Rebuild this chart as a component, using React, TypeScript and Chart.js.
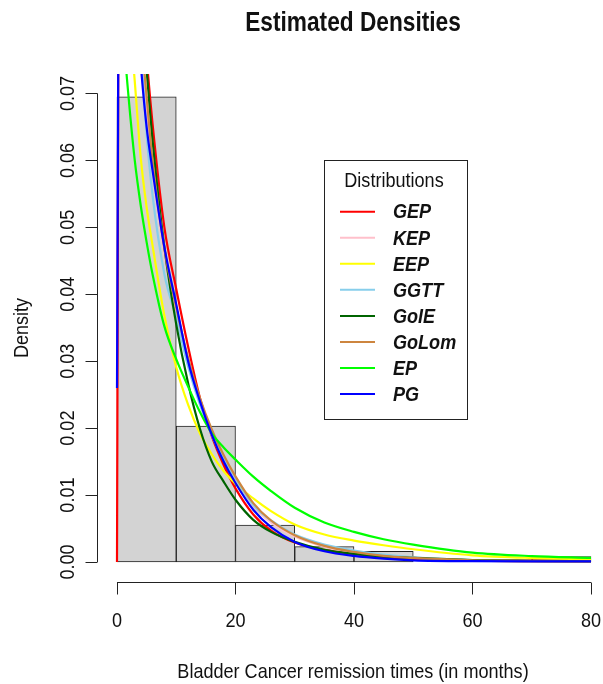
import React, { useEffect, useRef } from "react";
import { Chart, registerables } from "chart.js";

Chart.register(...registerables);

// ---- data ----
const chartTitle = "Estimated Densities";
const xAxisLabel = "Bladder Cancer remission times (in months)";
const yAxisLabel = "Density";
const legendTitle = "Distributions";

const xTicks = [0, 20, 40, 60, 80];
const yTicks = [0, 0.01, 0.02, 0.03, 0.04, 0.05, 0.06, 0.07];
const yTickLabels = ["0.00", "0.01", "0.02", "0.03", "0.04", "0.05", "0.06", "0.07"];

const binCenters = [5, 15, 25, 35, 45, 55, 65, 75];
const binDensities = [0.0695, 0.0203, 0.0055, 0.0023, 0.0016, 0, 0, 0.0008];

const curveX = [0, 0.5, 1, 2, 3, 4, 5, 6, 8, 10, 12, 14, 16, 18, 20, 23, 26, 30, 35, 40, 45, 50, 60, 70, 80];

const GEP = [0, 0.14, 0.14, 0.125, 0.105, 0.088, 0.0755, 0.0655, 0.05, 0.0408, 0.0322, 0.0245, 0.0188, 0.0145, 0.011, 0.0071, 0.0047, 0.0029, 0.0018, 0.0012, 0.0007, 0.00045, 0.00025, 0.0002, 0.00018];
const KEP = [0.2, 0.16, 0.14, 0.11, 0.092, 0.079, 0.068, 0.059, 0.046, 0.0375, 0.03, 0.0238, 0.019, 0.0152, 0.012, 0.0083, 0.0059, 0.0038, 0.0023, 0.0014, 0.0009, 0.0006, 0.00025, 0.00012, 0.00006];
const EEP = [0.13, 0.112, 0.1, 0.083, 0.0718, 0.0605, 0.053, 0.0473, 0.0368, 0.0291, 0.0235, 0.0192, 0.0161, 0.0136, 0.0117, 0.0095, 0.0076, 0.0056, 0.0041, 0.0032, 0.0025, 0.0019, 0.001, 0.0006, 0.0004];
const GGTT = [0.2, 0.15, 0.13, 0.105, 0.088, 0.077, 0.064, 0.0548, 0.043, 0.0365, 0.0292, 0.0235, 0.019, 0.0155, 0.0125, 0.0085, 0.0062, 0.0041, 0.0026, 0.0017, 0.0011, 0.0007, 0.0003, 0.00015, 0.0001];
const GoIE = [0.3, 0.2, 0.16, 0.125, 0.1, 0.084, 0.0735, 0.063, 0.047, 0.0355, 0.0267, 0.0199, 0.015, 0.012, 0.0093, 0.0063, 0.0045, 0.003, 0.0018, 0.0012, 0.0008, 0.0006, 0.0003, 0.00018, 0.0001];
const GoLom = [0.2, 0.16, 0.14, 0.11, 0.093, 0.08, 0.0695, 0.06, 0.0468, 0.038, 0.0305, 0.0245, 0.0198, 0.016, 0.0128, 0.0088, 0.0062, 0.004, 0.0024, 0.0015, 0.0009, 0.0006, 0.00025, 0.0001, 0.00005];
const EP = [0.096, 0.088, 0.08, 0.069, 0.06, 0.0533, 0.0478, 0.043, 0.0352, 0.0303, 0.0262, 0.0224, 0.0192, 0.0171, 0.0153, 0.01275, 0.0106, 0.0081, 0.0059, 0.0045, 0.0034, 0.0026, 0.0014, 0.00088, 0.00062];
const PG = [0.026, 0.12, 0.118, 0.1, 0.087, 0.0745, 0.065, 0.0585, 0.047, 0.0385, 0.03, 0.024, 0.019, 0.015, 0.0118, 0.0078, 0.0052, 0.003, 0.0016, 0.0009, 0.0005, 0.00025, 0.00012, 0.0001, 0.0001];

const seriesNames = ["GEP", "KEP", "EEP", "GGTT", "GoIE", "GoLom", "EP", "PG"];
const seriesValues = [GEP, KEP, EEP, GGTT, GoIE, GoLom, EP, PG];
const seriesColors = ["#FF0000", "#FFC0CB", "#FFFF00", "#87CEEB", "#006400", "#CD853F", "#00FF00", "#0000FF"];

const FONT = '"Liberation Sans", Arial, sans-serif';
const SQUASH = 0.86;

function drawText(ctx: any, text: string, x: number, y: number, font: string, align: string, rot = 0, sx = SQUASH) {
  ctx.save();
  ctx.font = font;
  ctx.textAlign = align;
  ctx.textBaseline = "middle";
  ctx.translate(x, y);
  if (rot) ctx.rotate(rot);
  ctx.scale(sx, 1);
  ctx.fillText(text, 0, 0);
  ctx.restore();
}

const rPlotPlugin = {
  id: "rPlot",
  afterDraw(chart: any) {
    const { ctx, chartArea } = chart;
    const xs = chart.scales.x;
    const ys = chart.scales.y;
    ctx.save();
    ctx.strokeStyle = "#222";
    ctx.fillStyle = "#111";
    ctx.lineWidth = 1;

    // title
    drawText(ctx, chartTitle, 353, 24, `bold 27px ${FONT}`, "center", 0, 0.84);

    // x axis
    const axY = Math.round(chartArea.bottom) + 0.5;
    const xa = xs.getPixelForValue(xTicks[0]);
    const xb = xs.getPixelForValue(xTicks[xTicks.length - 1]);
    ctx.beginPath();
    ctx.moveTo(xa, axY);
    ctx.lineTo(xb, axY);
    xTicks.forEach((t) => {
      const p = Math.round(xs.getPixelForValue(t)) + 0.5;
      ctx.moveTo(p, axY);
      ctx.lineTo(p, axY + 12);
    });
    ctx.stroke();
    xTicks.forEach((t) => {
      drawText(ctx, String(t), xs.getPixelForValue(t), 621, `21px ${FONT}`, "center");
    });
    drawText(ctx, xAxisLabel, 353, 672, `21px ${FONT}`, "center");

    // y axis
    const axX = Math.round(chartArea.left) + 0.5;
    const ya = ys.getPixelForValue(yTicks[0]);
    const yb = ys.getPixelForValue(yTicks[yTicks.length - 1]);
    ctx.beginPath();
    ctx.moveTo(axX, ya);
    ctx.lineTo(axX, yb);
    yTicks.forEach((t) => {
      const p = Math.round(ys.getPixelForValue(t)) + 0.5;
      ctx.moveTo(axX, p);
      ctx.lineTo(axX - 12, p);
    });
    ctx.stroke();
    yTicks.forEach((t, i) => {
      drawText(ctx, yTickLabels[i], 68, ys.getPixelForValue(t), `21px ${FONT}`, "center", -Math.PI / 2);
    });
    drawText(ctx, yAxisLabel, 22, (chartArea.top + chartArea.bottom) / 2, `21px ${FONT}`, "center", -Math.PI / 2);

    // legend
    const lx = 324.5, ly = 160.5, lw = 143, lh = 259;
    ctx.fillStyle = "#fff";
    ctx.fillRect(lx, ly, lw, lh);
    ctx.strokeStyle = "#222";
    ctx.lineWidth = 1;
    ctx.strokeRect(lx, ly, lw, lh);
    ctx.fillStyle = "#111";
    drawText(ctx, legendTitle, 394, 181, `21px ${FONT}`, "center");
    seriesNames.forEach((name, i) => {
      const ry = 211.7 + i * 26.05;
      ctx.strokeStyle = seriesColors[i];
      ctx.lineWidth = 2;
      ctx.beginPath();
      ctx.moveTo(340, ry);
      ctx.lineTo(375, ry);
      ctx.stroke();
      ctx.fillStyle = "#111";
      drawText(ctx, name, 393, ry + 1, `italic bold 21px ${FONT}`, "left");
    });
    ctx.restore();
  },
};

export default function App() {
  const ref = useRef<HTMLCanvasElement>(null);
  useEffect(() => {
    document.body.style.margin = "0";
    const canvas = ref.current!;
    const datasets: any[] = [
      {
        type: "bar",
        label: "hist",
        data: binCenters.map((c, i) => ({ x: c, y: binDensities[i] })),
        backgroundColor: "#D3D3D3",
        borderColor: "#222",
        borderWidth: 1,
        borderSkipped: false,
        barPercentage: 1,
        categoryPercentage: 1,
        order: 100,
      },
      ...seriesNames.map((name, i) => ({
        type: "line",
        label: name,
        data: curveX.map((x, j) => ({ x, y: seriesValues[i][j] })),
        borderColor: seriesColors[i],
        backgroundColor: seriesColors[i],
        borderWidth: 2.2,
        pointRadius: 0,
        fill: false,
        cubicInterpolationMode: "monotone",
        order: seriesNames.length - i,
      })),
    ];
    const chart = new Chart(canvas, {
      type: "line",
      data: { datasets },
      options: {
        responsive: false,
        animation: false,
        layout: { padding: { left: 97, top: 74, right: 0, bottom: 102 } },
        plugins: { legend: { display: false }, tooltip: { enabled: false }, title: { display: false } },
        scales: {
          x: { type: "linear", min: -3.375, max: 82.03, offset: false, display: false },
          y: { type: "linear", min: -0.00299, max: 0.07291, display: false },
        },
      },
      plugins: [rPlotPlugin],
    });
    return () => chart.destroy();
  }, []);
  return (
    <canvas
      ref={ref}
      width={603}
      height={684}
      style={{ display: "block", width: 603, height: 684 }}
    />
  );
}
